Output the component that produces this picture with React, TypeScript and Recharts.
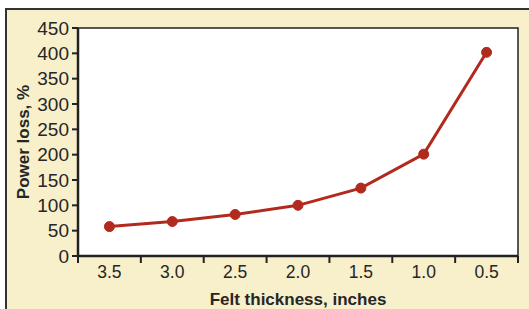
import { LineChart, Line, XAxis, YAxis, ReferenceArea, Label } from "recharts"

const thickness = ["3.5", "3.0", "2.5", "2.0", "1.5", "1.0", "0.5"]
const powerLoss = [58, 68, 82, 100, 134, 201, 402]
const yTicks = [0, 50, 100, 150, 200, 250, 300, 350, 400, 450]
const bandEdges = [0, 1, 2, 3, 4, 5, 6, 7]
const bandCenters = [0.5, 1.5, 2.5, 3.5, 4.5, 5.5, 6.5]

const data = thickness.map((t, i) => ({ x: i + 0.5, label: t, loss: powerLoss[i] }))

const TEXT = "#262626"
const RED = "#b22a1e"
const FONT = "'Liberation Sans', Arial, sans-serif"

export default function App() {
  return (
    <div
      style={{
        position: "fixed",
        left: 5,
        top: 8,
        width: 524,
        height: 301,
        background: "#f8efcb",
        borderTop: "2px solid #333",
        borderLeft: "2px solid #333",
        boxSizing: "border-box",
        fontFamily: FONT,
      }}
    >
      <LineChart width={522} height={299} data={data} margin={{ top: 18, right: 11, bottom: 0, left: 0 }}>
        {/* tick marks sit on the band edges */}
        <XAxis
          dataKey="x"
          type="number"
          domain={[0, 7]}
          ticks={bandEdges}
          tickFormatter={() => ""}
          height={1}
          tickSize={7}
          axisLine={{ stroke: "#222", strokeWidth: 2.5 }}
          tickLine={{ stroke: "#222", strokeWidth: 2 }}
        />
        {/* labels sit in the middle of each band */}
        <XAxis
          xAxisId="labels"
          dataKey="x"
          type="number"
          domain={[0, 7]}
          ticks={bandCenters}
          tickFormatter={(v: number) => thickness[Math.floor(v)]}
          height={52}
          axisLine={false}
          tickLine={false}
          tickSize={6}
          tickMargin={3}
          tick={{ fill: TEXT, fontSize: 17.5, fontFamily: FONT }}
        >
          <Label
            value="Felt thickness, inches"
            position="insideBottom"
            offset={4}
            style={{ fill: TEXT, fontSize: 17, fontWeight: "bold", fontFamily: FONT }}
          />
        </XAxis>
        <YAxis
          domain={[0, 450]}
          ticks={yTicks}
          width={71}
          interval={0}
          tickSize={6}
          tickMargin={3}
          axisLine={{ stroke: "#222", strokeWidth: 2.5 }}
          tickLine={{ stroke: "#222", strokeWidth: 2 }}
          tick={{ fill: TEXT, fontSize: 19, fontFamily: FONT }}
        >
          <Label
            value="Power loss, %"
            angle={-90}
            position="insideLeft"
            offset={16}
            style={{ fill: TEXT, fontSize: 17, fontWeight: "bold", fontFamily: FONT, textAnchor: "middle" }}
          />
        </YAxis>
        <ReferenceArea x1={0} x2={7} y1={0} y2={450} fill="#ffffff" fillOpacity={1} stroke="#222" strokeWidth={1.5} />
        <Line
          xAxisId="labels"
          dataKey="loss"
          stroke={RED}
          strokeWidth={3}
          dot={{ r: 5, fill: RED, stroke: RED, strokeWidth: 1 }}
          isAnimationActive={false}
        />
      </LineChart>
    </div>
  )
}
